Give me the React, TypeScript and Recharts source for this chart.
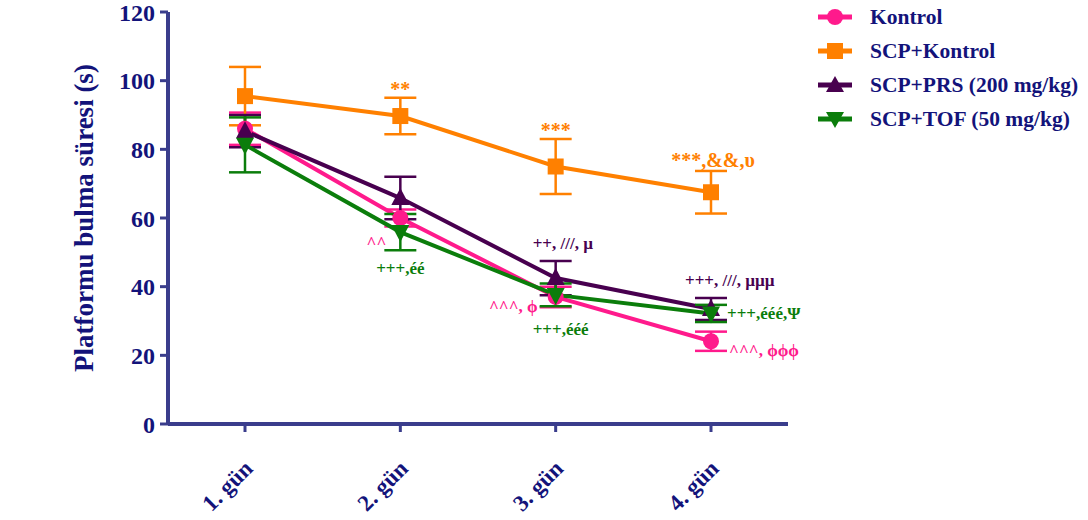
import React from "react";
import { LineChart, Line, XAxis, YAxis, ErrorBar, LabelList } from "recharts";

const days = ["1. gün", "2. gün", "3. gün", "4. gün"];
const yTicks = [0, 20, 40, 60, 80, 100, 120];

const kontrol = [86, 60, 37, 24.1];
const kontrolErr = [4.7, 2.5, 3, 2.8];
const scpKontrol = [95.5, 89.7, 75, 67.5];
const scpKontrolErr = [8.5, 5.3, 8, 6.2];
const scpPrs = [85.3, 65.8, 42.5, 33.5];
const scpPrsErr = [4.7, 6.2, 5, 3.2];
const scpTof = [81.3, 55.9, 37.6, 32.2];
const scpTofErr = [8, 5.3, 3.3, 2.5];

const kontrolNotes = ["", "^^", "^^^, ϕ", "^^^, ϕϕϕ"];
const scpKontrolNotes = ["", "**", "***", "***,&&,υ"];
const scpPrsNotes = ["", "", "++, ///, µ", "+++, ///, µµµ"];
const scpTofNotes = ["", "+++,éé", "+++,ééé", "+++,ééé,Ψ"];

const seriesNames = ["Kontrol", "SCP+Kontrol", "SCP+PRS (200 mg/kg)", "SCP+TOF (50 mg/kg)"];

const PINK = "#ff1a8c";
const ORANGE = "#ff8000";
const PURPLE = "#48004f";
const GREEN = "#0b7d0b";
const NAVY = "#13137a";
const AXIS = "#3a3d8c";
const FONT = "'Liberation Serif', 'Times New Roman', serif";

const data = days.map((d, i) => ({
  day: d,
  kontrol: kontrol[i],
  kontrolErr: kontrolErr[i],
  kontrolNote: kontrolNotes[i],
  scp: scpKontrol[i],
  scpErr: scpKontrolErr[i],
  scpNote: scpKontrolNotes[i],
  prs: scpPrs[i],
  prsErr: scpPrsErr[i],
  prsNote: scpPrsNotes[i],
  tof: scpTof[i],
  tofErr: scpTofErr[i],
  tofNote: scpTofNotes[i],
}));

type Place = { a: "start" | "middle" | "end"; dx: number; dy: number } | null;
const kontrolPlace: Place[] = [null, { a: "end", dx: -14, dy: 30 }, { a: "end", dx: -18, dy: 15 }, { a: "start", dx: 18, dy: 15 }];
const scpPlace: Place[] = [null, { a: "middle", dx: 0, dy: -20 }, { a: "middle", dx: 0, dy: -30 }, { a: "middle", dx: 2, dy: -25 }];
const prsPlace: Place[] = [null, null, { a: "start", dx: -23, dy: -29 }, { a: "start", dx: -26, dy: -23 }];
const tofPlace: Place[] = [null, { a: "middle", dx: 0, dy: 42 }, { a: "middle", dx: 5, dy: 40 }, { a: "start", dx: 16, dy: 6 }];

const makeNote = (places: Place[], color: string, size: number) => (props: any) => {
  const { x, y, index, value } = props;
  const p = places[index];
  if (!value || !p) return null;
  return (
    <text
      x={x + p.dx}
      y={y + p.dy}
      textAnchor={p.a}
      fill={color}
      fontFamily={FONT}
      fontWeight="bold"
      fontSize={size}
    >
      {value}
    </text>
  );
};

const circleDot = (color: string) => (props: any) => (
  <circle key={`c-${props.index}`} cx={props.cx} cy={props.cy} r={8} fill={color} />
);
const squareDot = (color: string) => (props: any) => (
  <rect key={`s-${props.index}`} x={props.cx - 8} y={props.cy - 8} width={16} height={16} fill={color} />
);
const triUpDot = (color: string) => (props: any) => (
  <path
    key={`u-${props.index}`}
    d={`M${props.cx},${props.cy - 10} L${props.cx + 9},${props.cy + 7} L${props.cx - 9},${props.cy + 7} Z`}
    fill={color}
  />
);
const triDownDot = (color: string) => (props: any) => (
  <path
    key={`d-${props.index}`}
    d={`M${props.cx},${props.cy + 10} L${props.cx + 9},${props.cy - 7} L${props.cx - 9},${props.cy - 7} Z`}
    fill={color}
  />
);

const XTick = (props: any) => {
  const { x, y, payload } = props;
  const ax = x + 9;
  const ay = y + 36;
  return (
    <text
      x={ax}
      y={ay}
      transform={`rotate(-45, ${ax}, ${ay})`}
      textAnchor="end"
      fill={NAVY}
      fontFamily={FONT}
      fontWeight="bold"
      fontSize={23}
    >
      {payload.value}
    </text>
  );
};

const YLabel = (props: any) => {
  const vb = props.viewBox || {};
  const cx = 84;
  const cy = (vb.y ?? 12) + (vb.height ?? 412) / 2;
  return (
    <text
      x={cx}
      y={cy}
      transform={`rotate(-90, ${cx}, ${cy})`}
      textAnchor="middle"
      dominantBaseline="central"
      fill={NAVY}
      fontFamily={FONT}
      fontWeight="bold"
      fontSize={27}
    >
      Platformu bulma süresi (s)
    </text>
  );
};

const legendColors = [PINK, ORANGE, PURPLE, GREEN];
const legendShapes = ["circle", "square", "up", "down"];

const LegendMarker = ({ shape, color }: { shape: string; color: string }) => (
  <svg width={36} height={20} style={{ display: "block" }}>
    <line x1={1} y1={10} x2={35} y2={10} stroke={color} strokeWidth={5} />
    {shape === "circle" && <circle cx={18} cy={10} r={8} fill={color} />}
    {shape === "square" && <rect x={10} y={2} width={16} height={16} fill={color} />}
    {shape === "up" && <path d="M18,1 L27,17 L9,17 Z" fill={color} />}
    {shape === "down" && <path d="M18,19 L27,3 L9,3 Z" fill={color} />}
  </svg>
);

export default function App() {
  return (
    <div style={{ position: "absolute", left: 0, top: 0, width: 1088, height: 520, background: "#fff" }}>
      <LineChart
        width={1088}
        height={520}
        data={data}
        margin={{ top: 12, right: 300, bottom: 0, left: 0 }}
      >
        <XAxis
          dataKey="day"
          height={96}
          padding={{ left: 77, right: 77 }}
          axisLine={{ stroke: AXIS, strokeWidth: 4 }}
          tickLine={{ stroke: AXIS, strokeWidth: 3 }}
          tickSize={8}
          tick={<XTick />}
          interval={0}
        />
        <YAxis
          width={168}
          domain={[0, 120]}
          ticks={yTicks}
          interval={0}
          axisLine={{ stroke: AXIS, strokeWidth: 4 }}
          tickLine={{ stroke: AXIS, strokeWidth: 3 }}
          tickSize={8}
          tickMargin={5}
          tick={{ fill: NAVY, fontFamily: FONT, fontWeight: "bold", fontSize: 24 }}
          label={<YLabel />}
        />
        <Line
          dataKey="kontrol"
          name={seriesNames[0]}
          stroke={PINK}
          strokeWidth={4}
          dot={circleDot(PINK)}
          isAnimationActive={false}
        >
          <ErrorBar dataKey="kontrolErr" direction="y" width={16} stroke={PINK} strokeWidth={2.5} />
          <LabelList dataKey="kontrolNote" content={makeNote(kontrolPlace, PINK, 17)} />
        </Line>
        <Line
          dataKey="scp"
          name={seriesNames[1]}
          stroke={ORANGE}
          strokeWidth={4}
          dot={squareDot(ORANGE)}
          isAnimationActive={false}
        >
          <ErrorBar dataKey="scpErr" direction="y" width={16} stroke={ORANGE} strokeWidth={2.5} />
          <LabelList dataKey="scpNote" content={makeNote(scpPlace, ORANGE, 20)} />
        </Line>
        <Line
          dataKey="prs"
          name={seriesNames[2]}
          stroke={PURPLE}
          strokeWidth={4}
          dot={triUpDot(PURPLE)}
          isAnimationActive={false}
        >
          <ErrorBar dataKey="prsErr" direction="y" width={16} stroke={PURPLE} strokeWidth={2.5} />
          <LabelList dataKey="prsNote" content={makeNote(prsPlace, PURPLE, 17)} />
        </Line>
        <Line
          dataKey="tof"
          name={seriesNames[3]}
          stroke={GREEN}
          strokeWidth={4}
          dot={triDownDot(GREEN)}
          isAnimationActive={false}
        >
          <ErrorBar dataKey="tofErr" direction="y" width={16} stroke={GREEN} strokeWidth={2.5} />
          <LabelList dataKey="tofNote" content={makeNote(tofPlace, GREEN, 17)} />
        </Line>
      </LineChart>
      <div style={{ position: "absolute", left: 817, top: 0 }}>
        {seriesNames.map((n, i) => (
          <div
            key={n}
            style={{
              display: "flex",
              alignItems: "center",
              height: 34,
              fontFamily: FONT,
              fontWeight: "bold",
              fontSize: 21.5,
              color: NAVY,
              whiteSpace: "nowrap",
            }}
          >
            <LegendMarker shape={legendShapes[i]} color={legendColors[i]} />
            <span style={{ marginLeft: 17 }}>{n}</span>
          </div>
        ))}
      </div>
    </div>
  );
}
